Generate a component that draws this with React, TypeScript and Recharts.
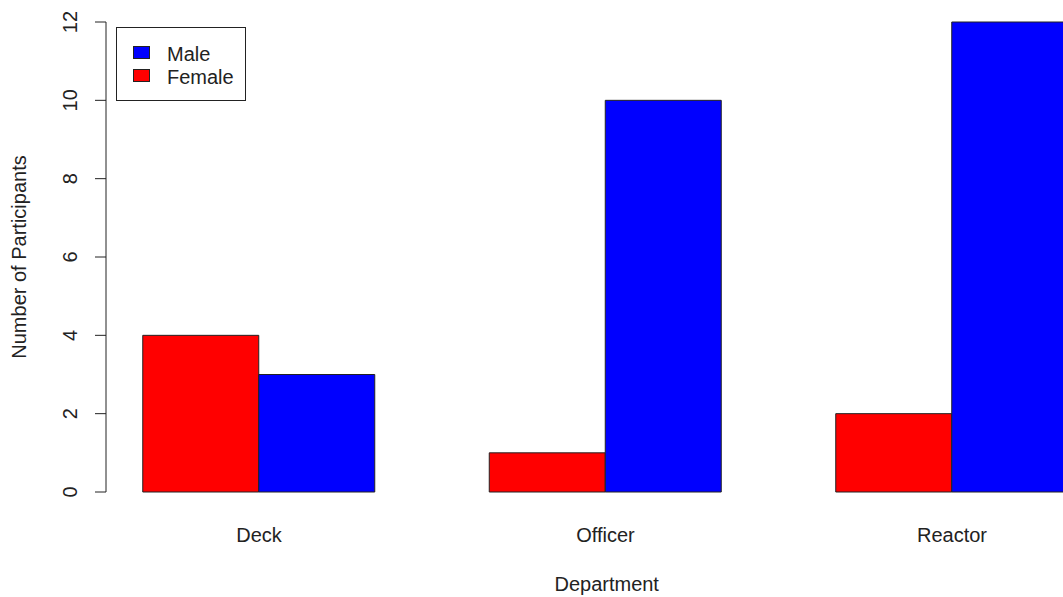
import { Bar, BarChart, Label, Legend, XAxis, YAxis } from "recharts";

// counts per department
const DEPARTMENTS = ["Deck", "Officer", "Reactor"];
const FEMALE = [4, 1, 2];
const MALE = [3, 10, 12];
const Y_TICKS = [0, 2, 4, 6, 8, 10, 12];

const RED = "#ff0000";
const BLUE = "#0000ff";
const INK = "#222222";
const FONT = '"Liberation Sans", Arial, sans-serif';
const FONT_SIZE = 20;

const data = DEPARTMENTS.map((department, i) => ({
  department,
  Female: FEMALE[i],
  Male: MALE[i],
}));

interface TickProps {
  x?: number;
  y?: number;
  payload?: { value?: string | number };
}

const renderYTick = (props: unknown) => {
  const { x = 0, y = 0, payload } = props as TickProps;
  const px = x - 18;
  return (
    <text
      x={px}
      y={y}
      transform={`rotate(-90, ${px}, ${y})`}
      textAnchor="middle"
      fill={INK}
      fontSize={FONT_SIZE}
      fontFamily={FONT}
    >
      {payload?.value}
    </text>
  );
};

const renderXTick = (props: unknown) => {
  const { x = 0, y = 0, payload } = props as TickProps;
  return (
    <text
      x={x}
      y={y + 50}
      textAnchor="middle"
      fill={INK}
      fontSize={FONT_SIZE}
      fontFamily={FONT}
    >
      {payload?.value}
    </text>
  );
};

const renderLegend = (props: unknown) => {
  const { payload = [] } = props as {
    payload?: { value?: string; color?: string }[];
  };
  // R legend lists Male first, bars are drawn Female first
  const items = [...payload].reverse();
  return (
    <div
      style={{
        position: "relative",
        width: 128,
        height: 72,
        border: `1px solid ${INK}`,
        background: "#fff",
      }}
    >
      {items.map((item, i) => (
        <div
          key={item.value}
          style={{
            position: "absolute",
            left: 16,
            top: 18 + i * 23,
            height: 13,
            display: "flex",
            alignItems: "center",
          }}
        >
          <span
            style={{
              display: "inline-block",
              width: 15,
              height: 11,
              background: item.color,
              border: `1px solid ${INK}`,
              marginRight: 17,
            }}
          />
          <span
            style={{
              position: "relative",
              top: 2,
              fontFamily: FONT,
              fontSize: FONT_SIZE,
              color: INK,
              whiteSpace: "nowrap",
            }}
          >
            {item.value}
          </span>
        </div>
      ))}
    </div>
  );
};

export default function App() {
  return (
    <div
      style={{
        position: "fixed",
        left: 0,
        top: 0,
        width: 1063,
        height: 597,
        overflow: "hidden",
        background: "#fff",
      }}
    >
      <BarChart
        width={1140}
        height={597}
        data={data}
        margin={{ top: 22, right: 32.6, bottom: 0, left: 46 }}
        barGap={0}
        barSize={116}
      >
        <XAxis
          dataKey="department"
          type="category"
          height={105}
          axisLine={false}
          tickLine={false}
          tickSize={0}
          tickMargin={0}
          padding={{ left: -20.25, right: -17.85 }}
          tick={renderXTick}
        >
          <Label
            content={(props: unknown) => {
              const { viewBox } = props as {
                viewBox?: { x: number; y: number; width: number; height: number };
              };
              if (!viewBox) return null;
              return (
                <text
                  x={viewBox.x + viewBox.width / 2}
                  y={591}
                  textAnchor="middle"
                  fill={INK}
                  fontSize={FONT_SIZE}
                  fontFamily={FONT}
                >
                  Department
                </text>
              );
            }}
          />
        </XAxis>
        <YAxis
          type="number"
          domain={[0, 12]}
          ticks={Y_TICKS}
          interval={0}
          width={60}
          tickSize={11}
          tickMargin={0}
          axisLine={{ stroke: INK }}
          tickLine={{ stroke: INK }}
          tick={renderYTick}
        >
          <Label
            content={(props: unknown) => {
              const { viewBox } = props as {
                viewBox?: { x: number; y: number; width: number; height: number };
              };
              if (!viewBox) return null;
              const cx = viewBox.x - 20;
              const cy = viewBox.y + viewBox.height / 2;
              return (
                <text
                  x={cx}
                  y={cy}
                  transform={`rotate(-90, ${cx}, ${cy})`}
                  textAnchor="middle"
                  fill={INK}
                  fontSize={FONT_SIZE}
                  fontFamily={FONT}
                >
                  Number of Participants
                </text>
              );
            }}
          />
        </YAxis>
        <Legend
          layout="horizontal"
          align="center"
          verticalAlign="middle"
          content={renderLegend}
          wrapperStyle={{ left: 116, top: 27, width: 130, height: 74 }}
        />
        <Bar
          dataKey="Female"
          fill={RED}
          stroke={INK}
          strokeWidth={1}
          isAnimationActive={false}
        />
        <Bar
          dataKey="Male"
          fill={BLUE}
          stroke={INK}
          strokeWidth={1}
          isAnimationActive={false}
        />
      </BarChart>
    </div>
  );
}
